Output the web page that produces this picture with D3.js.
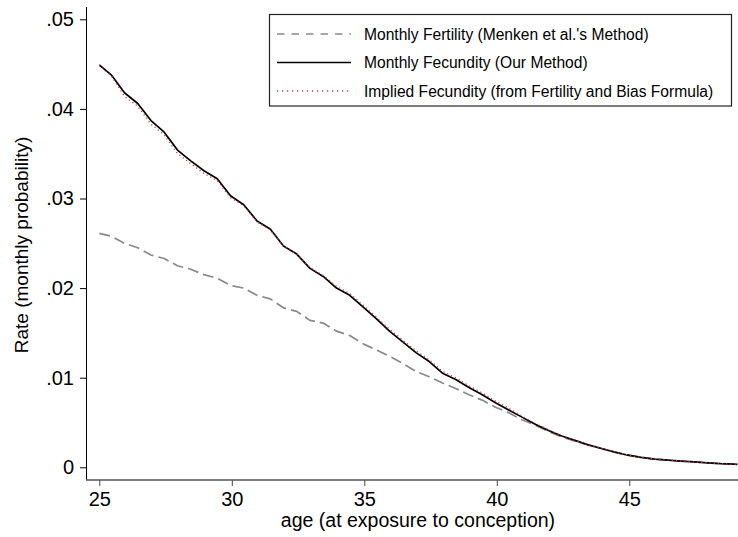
<!DOCTYPE html>
<html>
<head>
<meta charset="utf-8">
<script src="https://cdn.jsdelivr.net/npm/d3@7"></script>
<style>
  html, body { margin: 0; padding: 0; background: #fff; }
  svg { display: block; font-family: "Liberation Sans", Arial, Helvetica, sans-serif; }
</style>
</head>
<body>
<div id="chart"></div>
<script>
// ---- data ----
const ages = [25, 25.45, 25.95, 26.45, 26.95, 27.45, 27.95, 28.45, 28.95, 29.45,
  29.95, 30.45, 30.95, 31.45, 31.95, 32.45, 32.95, 33.45, 33.95, 34.45,
  34.95, 35.45, 35.95, 36.45, 36.95, 37.45, 37.95, 38.45, 38.95, 39.45,
  39.95, 40.45, 40.95, 41.45, 41.95, 42.45, 42.95, 43.45, 43.95, 44.45,
  44.95, 45.45, 45.95, 46.45, 46.95, 47.45, 47.95, 48.45, 48.95, 49.08];

const fertility = [0.0261, 0.0258, 0.0250, 0.0245, 0.0237, 0.0233, 0.0225, 0.0221, 0.0215, 0.0211,
  0.0203, 0.0200, 0.0192, 0.0188, 0.0178, 0.0174, 0.0164, 0.0161, 0.0152, 0.0147,
  0.0138, 0.0131, 0.0124, 0.0116, 0.0107, 0.0101, 0.0094, 0.0088, 0.0081, 0.0075,
  0.0067, 0.0061, 0.0053, 0.0047, 0.0040, 0.0034, 0.0029, 0.0025, 0.0021, 0.0017,
  0.00135, 0.0011, 0.00092, 0.0008, 0.0007, 0.0006, 0.0005, 0.0004, 0.00035, 0.00033];

const fecundity = [0.0449, 0.0438, 0.0418, 0.0406, 0.0387, 0.0374, 0.0354, 0.0342, 0.0331, 0.0322,
  0.0303, 0.0293, 0.0275, 0.0266, 0.0247, 0.0238, 0.0222, 0.0213, 0.0200, 0.0192,
  0.0179, 0.0166, 0.0152, 0.0140, 0.0128, 0.0118, 0.0105, 0.0098, 0.0089, 0.0081,
  0.0072, 0.0064, 0.0056, 0.0048, 0.0041, 0.0035, 0.0030, 0.0025, 0.0021, 0.0017,
  0.00135, 0.0011, 0.00092, 0.0008, 0.0007, 0.0006, 0.0005, 0.0004, 0.00035, 0.00033];

const implied = [0.0449, 0.0437, 0.0414, 0.0403, 0.0383, 0.0371, 0.0350, 0.0339, 0.0328, 0.0320,
  0.0301, 0.0292, 0.0274, 0.0265, 0.0247, 0.0238, 0.0223, 0.0214, 0.0202, 0.0194,
  0.0181, 0.0168, 0.0154, 0.0142, 0.0130, 0.0120, 0.0107, 0.0100, 0.0091, 0.0083,
  0.0074, 0.0066, 0.0057, 0.0049, 0.0042, 0.0035, 0.0030, 0.0025, 0.0021, 0.0017,
  0.00135, 0.0011, 0.00092, 0.0008, 0.0007, 0.0006, 0.0005, 0.0004, 0.00035, 0.00033];

const xTicks = [25, 30, 35, 40, 45];
const xTickLabels = ["25", "30", "35", "40", "45"];
const yTicks = [0, 0.01, 0.02, 0.03, 0.04, 0.05];
const yTickLabels = ["0", ".01", ".02", ".03", ".04", ".05"];

const seriesNames = [
  "Monthly Fertility (Menken et al.'s Method)",
  "Monthly Fecundity (Our Method)",
  "Implied Fecundity (from Fertility and Bias Formula)"
];
const xTitle = "age (at exposure to conception)";
const yTitle = "Rate (monthly probability)";

// ---- layout ----
const W = 738, H = 537;
const plotLeft = 86, plotTop = 7, plotBottom = 480, plotRight = 738;

const svg = d3.select("#chart").append("svg").attr("width", W).attr("height", H);

const x = d3.scaleLinear().domain([25, 45]).range([99.3, 629.3]);
const y = d3.scaleLinear().domain([0, 0.05]).range([467.3, 19.3]);

// clip to plot region
svg.append("clipPath").attr("id", "clip").append("rect")
  .attr("x", plotLeft).attr("y", plotTop).attr("width", plotRight - plotLeft).attr("height", plotBottom - plotTop);

// axes
const yAxis = d3.axisLeft(y).tickValues(yTicks)
  .tickFormat((d, i) => yTickLabels[i]).tickSize(6).tickSizeOuter(0).tickPadding(6);
const gy = svg.append("g").attr("transform", `translate(${plotLeft},0)`).call(yAxis);
gy.select(".domain").remove();
gy.selectAll(".tick line").attr("stroke", "#000").attr("stroke-width", 1);
gy.selectAll(".tick text").attr("font-size", 20).attr("fill", "#000")
  .attr("font-family", "Liberation Sans, Arial, Helvetica, sans-serif");

const xAxis = d3.axisBottom(x).tickValues(xTicks)
  .tickFormat((d, i) => xTickLabels[i]).tickSize(6).tickSizeOuter(0).tickPadding(6);
const gx = svg.append("g").attr("transform", `translate(0,${plotBottom})`).call(xAxis);
gx.select(".domain").remove();
gx.selectAll(".tick line").attr("stroke", "#444").attr("stroke-width", 1);
gx.selectAll(".tick text").attr("font-size", 20).attr("fill", "#000")
  .attr("font-family", "Liberation Sans, Arial, Helvetica, sans-serif");

// axis lines
svg.append("line").attr("x1", plotLeft + 0.5).attr("x2", plotLeft + 0.5)
  .attr("y1", plotTop).attr("y2", plotBottom).attr("stroke", "#000").attr("stroke-width", 1);
svg.append("line").attr("x1", plotLeft).attr("x2", plotRight)
  .attr("y1", plotBottom).attr("y2", plotBottom).attr("stroke", "#555").attr("stroke-width", 1.5);

// titles
svg.append("text").attr("x", 418).attr("y", 527).attr("text-anchor", "middle")
  .attr("font-size", 19.5).attr("fill", "#000").text(xTitle);
svg.append("text").attr("transform", "translate(28,245) rotate(-90)")
  .attr("text-anchor", "middle").attr("font-size", 19).attr("fill", "#000").text(yTitle);

// lines
const line = d3.line().x(d => x(d[0])).y(d => y(d[1]));
const gLines = svg.append("g").attr("clip-path", "url(#clip)");

const styles = [
  { data: fertility, stroke: "#8a8a8a", width: 1.7, dash: "11,5" },
  { data: fecundity, stroke: "#000", width: 1.7, dash: null },
  { data: implied, stroke: "#c23a4a", width: 1.3, dash: "1.2,3" }
];
const order = [0, 1, 2];
order.forEach(i => {
  const s = styles[i];
  gLines.append("path")
    .datum(ages.map((a, k) => [a, s.data[k]]))
    .attr("fill", "none").attr("stroke", s.stroke).attr("stroke-width", s.width)
    .attr("stroke-dasharray", s.dash).attr("stroke-linejoin", "round")
    .attr("d", line);
});

// legend
const lg = svg.append("g");
lg.append("rect").attr("x", 269.5).attr("y", 14.5).attr("width", 462).attr("height", 91.5)
  .attr("fill", "#fff").attr("stroke", "#222").attr("stroke-width", 1.2);
const legendDash = ["7.5,7", null, "1.2,3.8"];
const rowY = [34, 62.5, 91];
seriesNames.forEach((name, i) => {
  lg.append("line").attr("x1", 277).attr("x2", 351).attr("y1", rowY[i]).attr("y2", rowY[i])
    .attr("stroke", styles[i].stroke).attr("stroke-width", styles[i].width)
    .attr("stroke-dasharray", legendDash[i]);
  lg.append("text").attr("x", 364).attr("y", rowY[i]).attr("dy", "0.36em")
    .attr("font-size", 15.6).attr("fill", "#000").text(name);
});
</script>
</body>
</html>
